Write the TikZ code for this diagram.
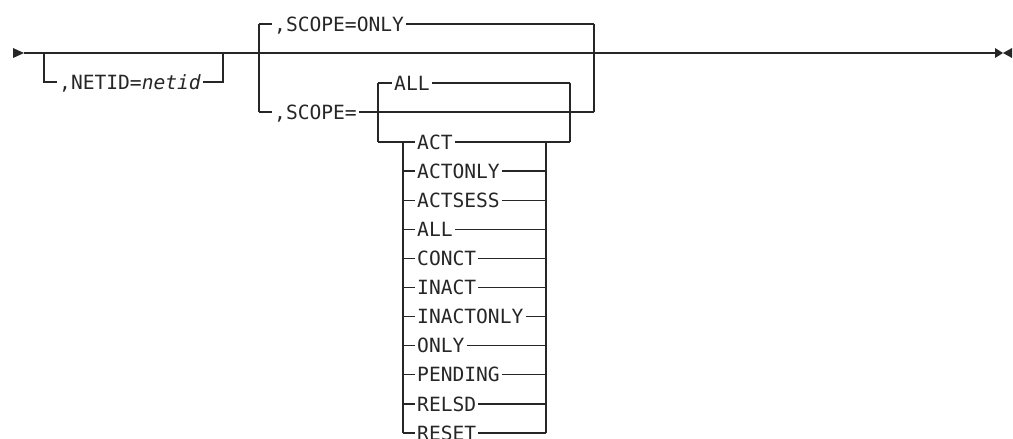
\documentclass[tikz,border=0pt]{standalone}
\usepackage{fontspec}
\newfontfamily\rrfont{DejaVu Sans Mono}

\begin{document}
\begin{tikzpicture}[x=1pt, y=-1pt,
    rail/.style={line width=1.3pt, black!85},
    tip/.style={fill=black!85, draw=none},
    kw/.style={font=\rrfont\fontsize{19.6}{20}\selectfont, text=black!85, inner xsep=2pt, inner ysep=0pt, text height=14.3pt, text depth=0pt, anchor=west}]
\useasboundingbox (0,0) rectangle (1013,439);

% main line
\coordinate (start) at (24,53);
\coordinate (stop) at (995,53);
\fill[tip] (13,48) -- (start) -- (13,58) -- cycle;
\fill[tip] (stop) ++(0,-5) -- (1003,53) -- (995,58) -- cycle;
\fill[tip] (1012,48) -- (1003,53) -- (1012,58) -- cycle;
\draw[rail] (start) -- (stop);

% optional netid
\node[kw] (netid) at (57,82) {,NETID=\textit{netid}};
\draw[rail] (44,53) |- (netid.west);
\draw[rail] (netid.east) -| (223,53);

% scope block
\node[kw] (onlydef) at (272,24) {,SCOPE=ONLY};
\node[kw] (scopeeq) at (272,112) {,SCOPE=};
\draw[rail] (259,24) -- (259,112);
\draw[rail] (594,24) -- (594,112);
\draw[rail] (259,24) -- (onlydef.west);
\draw[rail] (onlydef.east) -- (594,24);
\draw[rail] (259,112) -- (scopeeq.west);
\draw[rail] (scopeeq.east) -- (594,112);

% values
\node[kw] (alldef) at (392,83) {ALL};
\draw[rail] (378,83) -- (378,142);
\draw[rail] (570,83) -- (570,142);
\draw[rail] (378,83) -- (alldef.west);
\draw[rail] (alldef.east) -- (570,83);

\node[kw] (act) at (415,142) {ACT};
\draw[rail] (378,142) -- (act.west);
\draw[rail] (act.east) -- (570,142);
\draw[rail] (403,142) -- (403,433);
\draw[rail] (546,142) -- (546,433);

\foreach \val [count=\i] in {ACTONLY,ACTSESS,ALL,CONCT,INACT,INACTONLY,ONLY,PENDING,RELSD,RESET}{
    \node[kw] (opt\i) at (415,142+29.1*\i) {\val};
    \draw[rail] (403,142+29.1*\i) -- (opt\i.west);
    \draw[rail] (opt\i.east) -- (546,142+29.1*\i);
}
\end{tikzpicture}
\end{document}
